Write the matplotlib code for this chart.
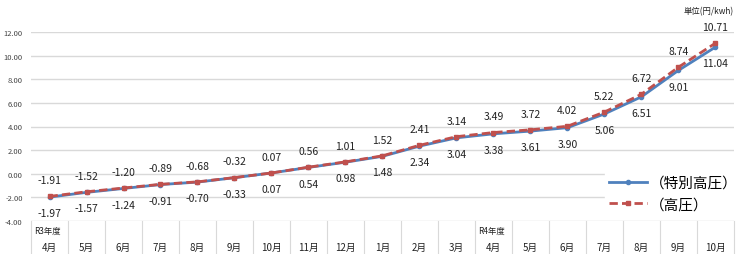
import matplotlib
matplotlib.use('Agg')
import matplotlib.pyplot as plt
import matplotlib.transforms as mtransforms

plt.rcParams['font.family'] = ['Noto Sans CJK JP', 'DejaVu Sans']

months = ['4月', '5月', '6月', '7月', '8月', '9月', '10月', '11月', '12月',
          '1月', '2月', '3月', '4月', '5月', '6月', '7月', '8月', '9月', '10月']
year_marks = {0: 'R3年度', 12: 'R4年度'}

# 特別高圧
tokubetsu = [-1.97, -1.57, -1.24, -0.91, -0.70, -0.33, 0.07, 0.54, 0.98,
             1.48, 2.34, 3.04, 3.38, 3.61, 3.90, 5.06, 6.51, 8.74, 10.71]
# 高圧
koatsu = [-1.91, -1.52, -1.20, -0.89, -0.68, -0.32, 0.07, 0.56, 1.01,
          1.52, 2.41, 3.14, 3.49, 3.72, 4.02, 5.22, 6.72, 9.01, 11.04]

yticks = [-4, -2, 0, 2, 4, 6, 8, 10, 12]

blue = '#4F81BD'
red = '#C0504D'

fig = plt.figure(figsize=(7.39, 2.55), dpi=100)
ax = fig.add_axes([0.042, 0.129, 0.951, 0.742])

x = list(range(len(months)))
ax.plot(x, tokubetsu, color=blue, lw=2, marker='o', ms=3, label='（特別高圧）', zorder=3)
ax.plot(x, koatsu, color=red, lw=2, ls=(0, (3, 1.5)), marker='s', ms=3.5,
        label='（高圧）', zorder=4)

# data labels: upper row and lower row as in the original
for i in x:
    hi = max(tokubetsu[i], koatsu[i])
    lo = min(tokubetsu[i], koatsu[i])
    if i < 17:
        top, bot = koatsu[i], tokubetsu[i]
    else:
        top, bot = tokubetsu[i], koatsu[i]
    ax.annotate('%.2f' % top, (i, hi), xytext=(0, 8), textcoords='offset points',
                ha='center', va='bottom', fontsize=7.5, color='#222222')
    ax.annotate('%.2f' % bot, (i, lo), xytext=(0, -8), textcoords='offset points',
                ha='center', va='top', fontsize=7.5, color='#222222')

ax.set_xlim(-0.5, len(months) - 0.5)
ax.set_ylim(-4, 12)
ax.set_yticks(yticks)
ax.set_yticklabels(['%.2f' % v for v in yticks], fontsize=5.5, color='#444444')
ax.tick_params(axis='y', length=0, pad=6)
ax.set_xticks([])
ax.grid(axis='y', color='#d9d9d9', lw=1)
ax.set_axisbelow(True)
for s in ax.spines.values():
    s.set_visible(False)

# category table below the axis
trans = mtransforms.blended_transform_factory(ax.transData, ax.transAxes)
for b in range(len(months) + 1):
    ax.plot([b - 0.5, b - 0.5], [0, -0.18], transform=trans, color='#d9d9d9',
            lw=0.8, clip_on=False)
for i, m in enumerate(months):
    ax.text(i, -0.135, m, transform=trans, ha='center', va='center', fontsize=7,
            color='#222222')
for i, t in year_marks.items():
    ax.text(i - 0.42, -0.05, t, transform=trans, ha='left', va='center',
            fontsize=6, color='#222222')

ax.text(1.0, 1.11, '単位(円/kwh)', transform=ax.transAxes, ha='right', va='center',
        fontsize=6, color='#222222', clip_on=False)

leg = ax.legend(loc='lower right', bbox_to_anchor=(1.012, 0.03), fontsize=10.5,
                frameon=True, handlelength=2.6, handletextpad=0.2,
                borderaxespad=0, labelspacing=0.5, borderpad=0.3)
leg.get_frame().set_edgecolor('white')
leg.get_frame().set_alpha(1)

fig.savefig('out.png', dpi=100)
